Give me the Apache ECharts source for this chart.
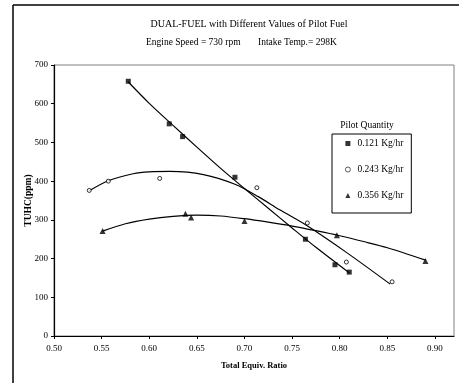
<!DOCTYPE html>
<html>
<head>
<meta charset="utf-8">
<script src="https://cdn.jsdelivr.net/npm/echarts@6/dist/echarts.min.js"></script>
<style>html,body{margin:0;padding:0;background:#fff}#c{width:459px;height:383px}</style>
</head>
<body>
<div id="c"></div>
<script>
// ---- data ----
const seriesNames = ['0.121 Kg/hr', '0.243 Kg/hr', '0.356 Kg/hr'];
const pilot1X = [0.578, 0.621, 0.635, 0.690, 0.764, 0.795, 0.810];
const pilot1Y = [658, 548, 515, 410, 250, 184, 165];
const pilot2X = [0.537, 0.557, 0.611, 0.713, 0.766, 0.807, 0.855];
const pilot2Y = [376, 400, 407, 383, 292, 191, 140];
const pilot3X = [0.551, 0.638, 0.644, 0.700, 0.797, 0.890];
const pilot3Y = [271, 316, 306, 297, 260, 194];
// trend curves
const trend1X = [0.578, 0.600, 0.625, 0.650, 0.675, 0.700, 0.725, 0.750, 0.775, 0.810];
const trend1Y = [656, 601, 544, 488, 433, 381, 330, 279, 229, 163];
const trend2X = [0.537, 0.557, 0.583, 0.600, 0.622, 0.657, 0.690, 0.7145, 0.737, 0.765, 0.807, 0.853];
const trend2Y = [375, 401, 419, 424, 425, 417, 392, 360, 326, 286, 216, 134];
const trend3X = [0.551, 0.575, 0.600, 0.625, 0.650, 0.675, 0.700, 0.725, 0.750, 0.775, 0.800, 0.825, 0.850, 0.890];
const trend3Y = [271, 290, 302, 309, 312, 310, 303, 294, 284, 272, 259, 244, 228, 196];
const xTicks = [0.50, 0.55, 0.60, 0.65, 0.70, 0.75, 0.80, 0.85, 0.90];
const yTicks = [0, 100, 200, 300, 400, 500, 600, 700];

const zip = (a, b) => a.map((v, i) => [v, b[i]]);
const serif = '"Liberation Serif","Times New Roman",serif';

const chart = echarts.init(document.getElementById('c'), null, {renderer: 'canvas'});
const trendStyle = {color: '#000', width: 1.2};
const trend = (x, y) => ({
  type: 'line', data: zip(x, y), smooth: 0.3, showSymbol: false, symbol: 'none',
  lineStyle: trendStyle, silent: true, z: 2, animation: false
});

chart.setOption({
  animation: false,
  backgroundColor: '#fff',
  grid: {left: 54, top: 65, right: 5, bottom: 47, show: true, borderColor: '#808080', borderWidth: 1},
  xAxis: {
    type: 'value', min: 0.5, max: 0.92, interval: 0.05,
    name: 'Total Equiv. Ratio', nameLocation: 'middle', nameGap: 25,
    nameTextStyle: {fontFamily: serif, fontSize: 8.5, fontWeight: 'bold', color: '#000'},
    axisLine: {show: true, lineStyle: {color: '#000', width: 1.2}},
    axisTick: {show: true, length: 3, lineStyle: {color: '#000'}},
    axisLabel: {
      fontFamily: serif, fontSize: 9, color: '#000', margin: 8, showMaxLabel: false,
      formatter: v => xTicks.some(t => Math.abs(t - v) < 1e-6) ? v.toFixed(2) : ''
    },
    splitLine: {show: false}
  },
  yAxis: {
    type: 'value', min: yTicks[0], max: yTicks[yTicks.length - 1], interval: 100,
    name: 'TUHC(ppm)', nameLocation: 'middle', nameGap: 20, nameRotate: 90, nameMoveOverlap: false,
    nameTextStyle: {fontFamily: serif, fontSize: 9.5, fontWeight: 'bold', color: '#000'},
    axisLine: {show: true, lineStyle: {color: '#000', width: 1.2}},
    axisTick: {show: true, length: 3, lineStyle: {color: '#000'}},
    axisLabel: {fontFamily: serif, fontSize: 9, color: '#000', margin: 6},
    splitLine: {show: false}
  },
  legend: {
    data: [
      {name: seriesNames[0], icon: 'rect'},
      {name: seriesNames[1], icon: 'circle', itemStyle: {color: '#fff', borderColor: '#000', borderWidth: 0.8}},
      {name: seriesNames[2], icon: 'triangle'}
    ],
    orient: 'vertical', left: 332, top: 134,
    itemWidth: 5, itemHeight: 5, itemGap: 13,
    padding: [3, 8, 11, 13],
    borderColor: '#000', borderWidth: 1,
    textStyle: {fontFamily: serif, fontSize: 9.5, color: '#000', padding: [0, 0, 0, 2], height: 13, lineHeight: 13},
    selectedMode: false
  },
  graphic: [
    {type: 'line', shape: {x1: 13, y1: 5, x2: 13, y2: 390}, style: {stroke: '#000', lineWidth: 1.5}, silent: true},
    {type: 'line', shape: {x1: 13, y1: 5, x2: 470, y2: 5}, style: {stroke: '#000', lineWidth: 1.5}, silent: true},
    {type: 'text', x: 249, y: 24, style: {text: 'DUAL-FUEL with Different Values of Pilot Fuel', font: '10px ' + serif, fill: '#000', textAlign: 'center', textVerticalAlign: 'middle'}},
    {type: 'text', x: 146, y: 42, style: {text: 'Engine Speed = 730 rpm', font: '9.5px ' + serif, fill: '#000', textVerticalAlign: 'middle'}},
    {type: 'text', x: 258, y: 42, style: {text: 'Intake Temp.= 298K', font: '9.5px ' + serif, fill: '#000', textVerticalAlign: 'middle'}},
    {type: 'text', x: 367, y: 125, style: {text: 'Pilot Quantity', font: '9.5px ' + serif, fill: '#000', textAlign: 'center', textVerticalAlign: 'middle'}}
  ],
  series: [
    {name: seriesNames[0], type: 'scatter', data: zip(pilot1X, pilot1Y), symbol: 'rect', symbolSize: 5,
     itemStyle: {color: '#000'}, z: 3},
    {name: seriesNames[1], type: 'scatter', data: zip(pilot2X, pilot2Y), symbol: 'circle', symbolSize: 4,
     itemStyle: {color: '#fff', borderColor: '#000', borderWidth: 1}, z: 3},
    {name: seriesNames[2], type: 'scatter', data: zip(pilot3X, pilot3Y), symbol: 'triangle', symbolSize: 6,
     itemStyle: {color: '#000'}, z: 3},
    trend(trend1X, trend1Y),
    trend(trend2X, trend2Y),
    trend(trend3X, trend3Y)
  ]
});
</script>
</body>
</html>
